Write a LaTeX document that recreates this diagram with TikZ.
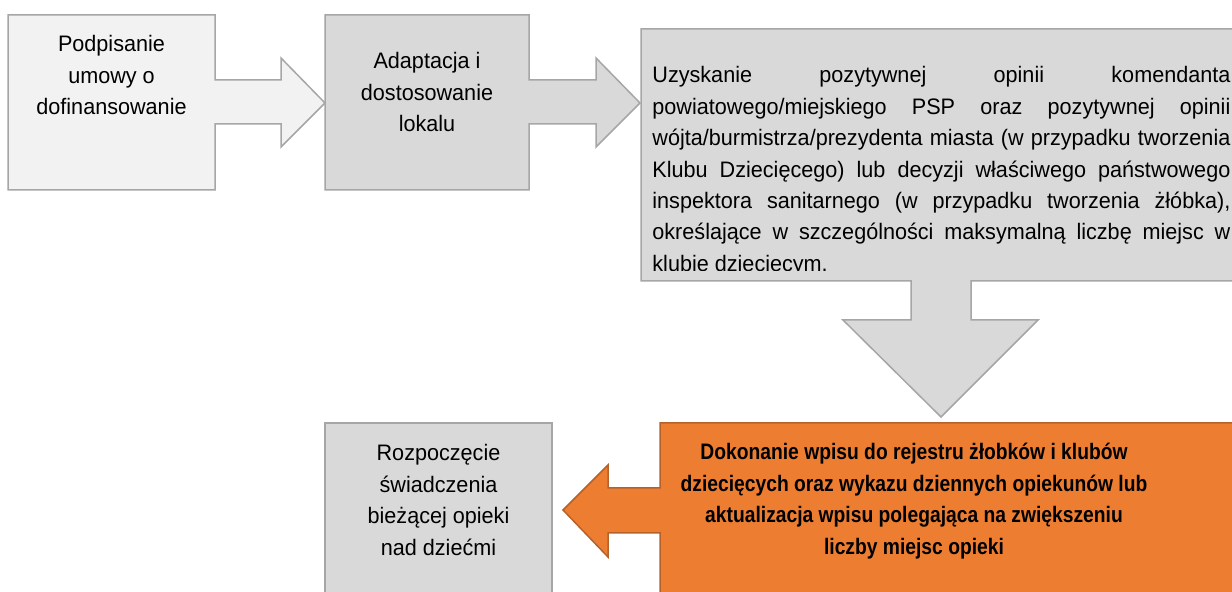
\documentclass[tikz,border=0pt]{standalone}
\usepackage{fontspec}
\setmainfont{Liberation Sans}[FakeStretch=0.965]
\newfontfamily\narrowfam{Liberation Sans}[FakeStretch=0.86]
\definecolor{boxline}{HTML}{A6A6A6}
\definecolor{lightfill}{HTML}{F2F2F2}
\definecolor{greyfill}{HTML}{D9D9D9}
\definecolor{orangefill}{HTML}{ED7D31}
\definecolor{orangeline}{HTML}{B5622A}
\tikzset{
  greyshape/.style={draw=boxline, fill=greyfill, line width=0.75pt, line join=miter},
  lightshape/.style={draw=boxline, fill=lightfill, line width=0.75pt, line join=miter},
  orangeshape/.style={draw=orangeline, fill=orangefill, line width=0.75pt, line join=miter},
  lbl/.style={anchor=base, inner sep=0pt, font=\fontsize{11.2pt}{15.7pt}\selectfont},
}
\begin{document}
\begin{tikzpicture}[x=0.5pt,y=-0.5pt]
\useasboundingbox (0,0) rectangle (1232,592);
\clip (0,0) rectangle (1232,592);
% box 1 with right arrow
\path[lightshape] (8,15) -- (215,15) -- (215,80) -- (281,80) -- (281,58) -- (325,103)
  -- (281,147) -- (281,124) -- (215,124) -- (215,190) -- (8,190) -- cycle;
% box 2 with right arrow
\path[greyshape] (325,15) -- (529,15) -- (529,80) -- (596,80) -- (596,58) -- (640,103)
  -- (596,147) -- (596,124) -- (529,124) -- (529,190) -- (325,190) -- cycle;
% box 3 with down arrow
\path[greyshape] (641,29) -- (1245,29) -- (1245,281) -- (971,281) -- (971,320) -- (1038,320)
  -- (941,417) -- (843,320) -- (911,320) -- (911,281) -- (641,281) -- cycle;
% box 4 (orange) with left arrow
\path[orangeshape] (660,423) -- (1245,423) -- (1245,600) -- (660,600) -- (660,533) -- (608,533)
  -- (608,557) -- (563,510) -- (608,465) -- (608,488) -- (660,488) -- cycle;
% box 5
\path[greyshape] (325,423) rectangle (552,600);

\node[lbl] (t1) at (111.5,52) {\parbox[t]{100pt}{\centering Podpisanie\\umowy o\\dofinansowanie}};
\node[lbl] (t2) at (427,69) {\parbox[t]{100pt}{\centering Adaptacja i\\dostosowanie\\lokalu}};
\begin{scope}
\clip (641,29) rectangle (1240,271);
\node[lbl, anchor=base west] (t3) at (652,83) {\parbox[t]{289pt}{Uzyskanie pozytywnej opinii komendanta\linebreak
powiatowego/miejskiego PSP oraz pozytywnej opinii\linebreak
wójta/burmistrza/prezydenta miasta (w przypadku tworzenia\linebreak
Klubu Dziecięcego) lub decyzji właściwego państwowego\linebreak
inspektora sanitarnego (w przypadku tworzenia żłóbka),\linebreak
określające w szczególności maksymalną liczbę miejsc w\linebreak
klubie dziecięcym.}};
\end{scope}
\node[lbl] (t4) at (914,460) {\parbox[t]{270pt}{\centering\narrowfam\bfseries Dokonanie wpisu do rejestru żłobków i klubów\\dziecięcych oraz wykazu dziennych opiekunów lub\\aktualizacja wpisu polegająca na zwiększeniu\\liczby miejsc opieki}};
\node[lbl] (t5) at (438.5,461) {\parbox[t]{110pt}{\centering Rozpoczęcie\\świadczenia\\bieżącej opieki\\nad dziećmi}};
\end{tikzpicture}
\end{document}
